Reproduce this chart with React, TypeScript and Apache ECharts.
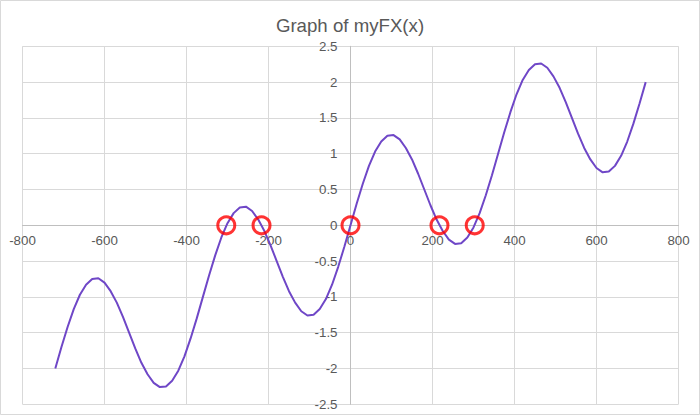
import React, { useEffect, useRef } from "react";
import * as echarts from "echarts";

const xValues: number[] = [
  -720, -705, -690, -675, -660, -645, -630, -615, -600, -585, -570, -555, -540,
  -525, -510, -495, -480, -465, -450, -435, -420, -405, -390, -375, -360, -345,
  -330, -315, -300, -285, -270, -255, -240, -225, -210, -195, -180, -165, -150,
  -135, -120, -105, -90, -75, -60, -45, -30, -15, 0, 15, 30, 45, 60, 75, 90, 105,
  120, 135, 150, 165, 180, 195, 210, 225, 240, 255, 270, 285, 300, 315, 330, 345,
  360, 375, 390, 405, 420, 435, 450, 465, 480, 495, 510, 525, 540, 555, 570, 585,
  600, 615, 630, 645, 660, 675, 690, 705, 720,
];

const yValues: number[] = [
  -2.0, -1.7, -1.42, -1.17, -0.97, -0.83, -0.75, -0.74, -0.8, -0.92, -1.08, -1.28,
  -1.5, -1.72, -1.92, -2.08, -2.2, -2.26, -2.25, -2.17, -2.03, -1.83, -1.58, -1.3,
  -1.0, -0.7, -0.42, -0.17, 0.03, 0.17, 0.25, 0.26, 0.2, 0.08, -0.08, -0.28, -0.5,
  -0.72, -0.92, -1.08, -1.2, -1.26, -1.25, -1.17, -1.03, -0.83, -0.58, -0.3, 0,
  0.3, 0.58, 0.83, 1.03, 1.17, 1.25, 1.26, 1.2, 1.08, 0.92, 0.72, 0.5, 0.28, 0.08,
  -0.08, -0.2, -0.26, -0.25, -0.17, -0.03, 0.17, 0.42, 0.7, 1.0, 1.3, 1.58, 1.83,
  2.03, 2.17, 2.25, 2.26, 2.2, 2.08, 1.92, 1.72, 1.5, 1.28, 1.08, 0.92, 0.8, 0.74,
  0.75, 0.83, 0.97, 1.17, 1.42, 1.7, 2.0,
];

const rootX: number[] = [-303, -217, 0, 217, 303];
const rootY: number[] = [0, 0, 0, 0, 0];

const titleText = "Graph of myFX(x)";

export default function App() {
  const ref = useRef<HTMLDivElement>(null);

  useEffect(() => {
    if (!ref.current) return;
    const chart = echarts.init(ref.current, undefined, { renderer: "svg" });
    const font = "'Liberation Sans', Arial, sans-serif";
    const labelStyle = { color: "#595959", fontSize: 13.33, fontFamily: font };
    const gridTop = 46.3;
    const gridBottom = 10.7;
    const gridLeft = 22.5;
    const gridRight = 21.5;
    const plotH = 415 - gridTop - gridBottom;
    const plotW = 700 - gridLeft - gridRight;
    chart.setOption({
      animation: false,
      backgroundColor: "#ffffff",
      title: {
        text: titleText,
        left: "center",
        top: 11,
        textStyle: {
          color: "#595959",
          fontSize: 18.67,
          fontWeight: "normal",
          fontFamily: font,
        },
      },
      graphic: [
        {
          type: "rect",
          shape: { x: 0.5, y: 0.5, width: 699, height: 414 },
          style: { fill: "none", stroke: "#d9d9d9", lineWidth: 1 },
          silent: true,
        },
      ],
      grid: {
        left: gridLeft,
        right: gridRight,
        top: gridTop,
        bottom: gridBottom,
        containLabel: false,
        outerBoundsMode: "none",
      },
      xAxis: {
        type: "value",
        position: "bottom",
        offset: -plotH / 2,
        min: -800,
        max: 800,
        interval: 200,
        axisLine: { onZero: false, lineStyle: { color: "#bfbfbf", width: 1 } },
        axisTick: { show: false },
        axisLabel: { ...labelStyle, margin: 9, showMinLabel: true, showMaxLabel: true },
        splitLine: { show: true, lineStyle: { color: "#d9d9d9", width: 1 } },
      },
      yAxis: {
        type: "value",
        position: "left",
        offset: -plotW / 2,
        min: -2.5,
        max: 2.5,
        interval: 0.5,
        axisLine: { onZero: false, lineStyle: { color: "#bfbfbf", width: 1 } },
        axisTick: { show: false },
        axisLabel: { ...labelStyle, margin: 13, showMinLabel: true, showMaxLabel: true },
        splitLine: { show: true, lineStyle: { color: "#d9d9d9", width: 1 } },
      },
      series: [
        {
          type: "line",
          data: xValues.map((x, i) => [x, yValues[i]]),
          showSymbol: false,
          smooth: false,
          lineStyle: { color: "#6f47c7", width: 2 },
          itemStyle: { color: "#6f47c7" },
          z: 2,
        },
        {
          type: "scatter",
          data: rootX.map((x, i) => [x, rootY[i]]),
          symbol: "circle",
          symbolSize: 17,
          itemStyle: {
            color: "rgba(0,0,0,0)",
            borderColor: "#ff0000",
            borderWidth: 3,
          },
          z: 3,
        },
      ],
    });
    return () => chart.dispose();
  }, []);

  return (
    <div
      ref={ref}
      style={{ position: "fixed", left: 0, top: 0, width: 700, height: 415 }}
    />
  );
}
